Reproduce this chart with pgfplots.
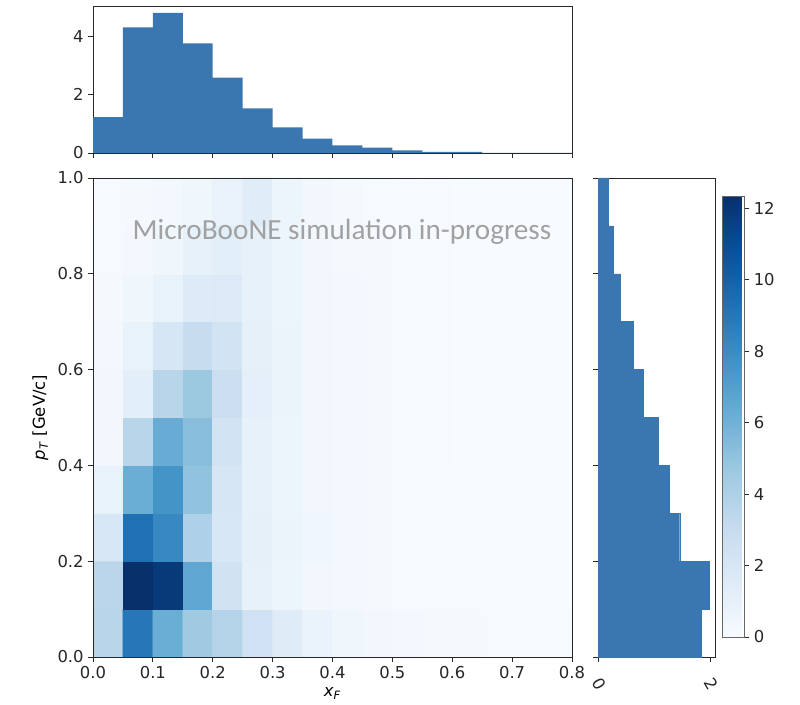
\documentclass[border=0pt]{standalone}
\usepackage{pgfplots}
\pgfplotsset{compat=1.18}
\usepackage{fontspec}
\setmainfont{DejaVu Sans}
\newfontfamily\carlito{Carlito}
\definecolor{histblue}{RGB}{58,118,175}
\definecolor{axgray}{RGB}{40,40,40}
\pgfplotsset{
  every axis/.append style={
    scale only axis,
    font=\fontsize{12.3}{14}\selectfont,
    /pgf/number format/assume math mode=true,
    tick align=outside,
    major tick length=3.5pt,
    axis line style={axgray, line width=0.7pt},
    every tick/.style={axgray, line width=0.7pt},
    tick label style={text=black!85},
  },
  colormap={mplblues}{rgb255=(247,251,255) rgb255=(222,235,247) rgb255=(198,219,239) rgb255=(158,202,225) rgb255=(107,174,214) rgb255=(66,146,198) rgb255=(33,113,181) rgb255=(8,81,156) rgb255=(8,48,107)},
}
\begin{document}
\begin{tikzpicture}
\path[use as bounding box] (0,0) rectangle (600pt,528pt);
% main 2D histogram
\begin{axis}[
  at={(69.75pt,35.25pt)}, anchor=south west,
  width=359.25pt, height=359.25pt,
  xmin=0, xmax=0.8, ymin=0, ymax=1,
  xtick={0,0.1,0.2,0.3,0.4,0.5,0.6,0.7,0.8},
  ytick={0,0.2,0.4,0.6,0.8,1.0},
  xticklabel style={/pgf/number format/.cd, fixed, fixed zerofill, precision=1},
  yticklabel style={/pgf/number format/.cd, fixed, fixed zerofill, precision=1},
  tick pos=left,
  colormap name=mplblues,
  point meta min=0, point meta max=12.34,
  xlabel={\textit{x}\textsubscript{\textit{F}}},
  ylabel={\textit{p}\textsubscript{\textit{T}} [GeV/c]},
  axis on top,
  colorbar,
  colorbar style={
    at={(parent axis.south east)}, anchor=south west,
    xshift=104.25pt, yshift=15pt,
    width=16.5pt, height=330.75pt,
    ytick={0,2,4,6,8,10,12},
    tick align=outside,
    yticklabel pos=right,
    ytick pos=right,
    axis line style={gray!80!black, line width=0.7pt},
  },
]
\addplot[matrix plot*, mesh/cols=16, point meta=explicit] coordinates {
(0.025,0.05)[3.6] (0.075,0.05)[9.0] (0.125,0.05)[6.2] (0.175,0.05)[4.6] (0.225,0.05)[3.8] (0.275,0.05)[2.5] (0.325,0.05)[1.5] (0.375,0.05)[0.8] (0.425,0.05)[0.5] (0.475,0.05)[0.35] (0.525,0.05)[0.25] (0.575,0.05)[0.2] (0.625,0.05)[0.15] (0.675,0.05)[0.1] (0.725,0.05)[0.08] (0.775,0.05)[0.05]

(0.025,0.15)[3.5] (0.075,0.15)[12.3] (0.125,0.15)[11.9] (0.175,0.15)[6.6] (0.225,0.15)[2.4] (0.275,0.15)[1.0] (0.325,0.15)[0.6] (0.375,0.15)[0.4] (0.425,0.15)[0.25] (0.475,0.15)[0.15] (0.525,0.15)[0.1] (0.575,0.15)[0.05] (0.625,0.15)[0.05] (0.675,0.15)[0.03] (0.725,0.15)[0.02] (0.775,0.15)[0.01]

(0.025,0.25)[1.9] (0.075,0.25)[9.3] (0.125,0.25)[8.2] (0.175,0.25)[4.0] (0.225,0.25)[1.9] (0.275,0.25)[1.1] (0.325,0.25)[0.7] (0.375,0.25)[0.45] (0.425,0.25)[0.3] (0.475,0.25)[0.2] (0.525,0.25)[0.1] (0.575,0.25)[0.05] (0.625,0.25)[0.05] (0.675,0.25)[0.03] (0.725,0.25)[0.02] (0.775,0.25)[0.01]

(0.025,0.35)[0.9] (0.075,0.35)[6.2] (0.125,0.35)[7.6] (0.175,0.35)[5.0] (0.225,0.35)[2.0] (0.275,0.35)[1.0] (0.325,0.35)[0.65] (0.375,0.35)[0.4] (0.425,0.35)[0.3] (0.475,0.35)[0.2] (0.525,0.35)[0.1] (0.575,0.35)[0.05] (0.625,0.35)[0.05] (0.675,0.35)[0.03] (0.725,0.35)[0.02] (0.775,0.35)[0.01]

(0.025,0.45)[0.35] (0.075,0.45)[3.6] (0.125,0.45)[6.3] (0.175,0.45)[5.3] (0.225,0.45)[2.3] (0.275,0.45)[1.0] (0.325,0.45)[0.6] (0.375,0.45)[0.4] (0.425,0.45)[0.25] (0.475,0.45)[0.15] (0.525,0.45)[0.1] (0.575,0.45)[0.05] (0.625,0.45)[0.04] (0.675,0.45)[0.03] (0.725,0.45)[0.02] (0.775,0.45)[0.01]

(0.025,0.55)[0.35] (0.075,0.55)[1.3] (0.125,0.55)[3.6] (0.175,0.55)[4.7] (0.225,0.55)[2.7] (0.275,0.55)[1.2] (0.325,0.55)[0.7] (0.375,0.55)[0.4] (0.425,0.55)[0.3] (0.475,0.55)[0.2] (0.525,0.55)[0.1] (0.575,0.55)[0.05] (0.625,0.55)[0.04] (0.675,0.55)[0.03] (0.725,0.55)[0.02] (0.775,0.55)[0.01]

(0.025,0.65)[0.25] (0.075,0.65)[0.9] (0.125,0.65)[2.0] (0.175,0.65)[3.0] (0.225,0.65)[2.3] (0.275,0.65)[1.1] (0.325,0.65)[0.7] (0.375,0.65)[0.4] (0.425,0.65)[0.25] (0.475,0.65)[0.15] (0.525,0.65)[0.1] (0.575,0.65)[0.05] (0.625,0.65)[0.04] (0.675,0.65)[0.03] (0.725,0.65)[0.02] (0.775,0.65)[0.01]

(0.025,0.75)[0.15] (0.075,0.75)[0.5] (0.125,0.75)[0.9] (0.175,0.75)[1.6] (0.225,0.75)[1.7] (0.275,0.75)[1.0] (0.325,0.75)[0.6] (0.375,0.75)[0.4] (0.425,0.75)[0.25] (0.475,0.75)[0.15] (0.525,0.75)[0.1] (0.575,0.75)[0.05] (0.625,0.75)[0.04] (0.675,0.75)[0.03] (0.725,0.75)[0.02] (0.775,0.75)[0.01]

(0.025,0.85)[0.1] (0.075,0.85)[0.3] (0.125,0.85)[0.5] (0.175,0.85)[1.0] (0.225,0.85)[1.3] (0.275,0.85)[1.0] (0.325,0.85)[0.6] (0.375,0.85)[0.4] (0.425,0.85)[0.2] (0.475,0.85)[0.15] (0.525,0.85)[0.1] (0.575,0.85)[0.05] (0.625,0.85)[0.04] (0.675,0.85)[0.03] (0.725,0.85)[0.02] (0.775,0.85)[0.01]

(0.025,0.95)[0.08] (0.075,0.95)[0.2] (0.125,0.95)[0.3] (0.175,0.95)[0.5] (0.225,0.95)[0.85] (0.275,0.95)[1.4] (0.325,0.95)[0.6] (0.375,0.95)[0.4] (0.425,0.95)[0.2] (0.475,0.95)[0.1] (0.525,0.95)[0.08] (0.575,0.95)[0.05] (0.625,0.95)[0.04] (0.675,0.95)[0.03] (0.725,0.95)[0.02] (0.775,0.95)[0.01]
};
\node[font=\carlito\fontsize{21.9}{26}\selectfont, text=black!37, anchor=base] at (axis cs:0.416,0.8706) {MicroBooNE simulation in-progress};
\end{axis}
% top histogram
\begin{axis}[
  at={(69.75pt,413.25pt)}, anchor=south west,
  width=359.25pt, height=110.25pt,
  xmin=0, xmax=0.8, ymin=0, ymax=5.04,
  xtick={0,0.1,0.2,0.3,0.4,0.5,0.6,0.7,0.8}, xticklabels={},
  ytick={0,2,4},
  tick pos=left,
]
\addplot[const plot, fill=histblue, draw=none] coordinates {(0,1.23)(0.05,4.31)(0.1,4.80)(0.15,3.76)(0.2,2.58)(0.25,1.53)(0.3,0.88)(0.35,0.49)(0.4,0.26)(0.45,0.18)(0.5,0.09)(0.55,0.04)(0.6,0.04)(0.65,0)(0.8,0)} \closedcycle;
\end{axis}
% right histogram
\begin{axis}[
  at={(448.5pt,35.25pt)}, anchor=south west,
  width=87.75pt, height=359.25pt,
  xmin=0, xmax=2.09, ymin=0, ymax=1,
  xtick={0,2}, ytick={0,0.2,0.4,0.6,0.8,1.0}, yticklabels={},
  xticklabel style={xshift=1pt, yshift=-17pt, rotate=-60, anchor=center},
  tick pos=left,
]
\addplot[xbar interval, fill=histblue, draw=histblue, line width=0.3pt] coordinates {(1.85,0)(1.99,0.1)(1.46,0.2)(1.28,0.3)(1.07,0.4)(0.81,0.5)(0.63,0.6)(0.40,0.7)(0.28,0.8)(0.19,0.9)(0.19,1.0)};
\end{axis}
\end{tikzpicture}
\end{document}
